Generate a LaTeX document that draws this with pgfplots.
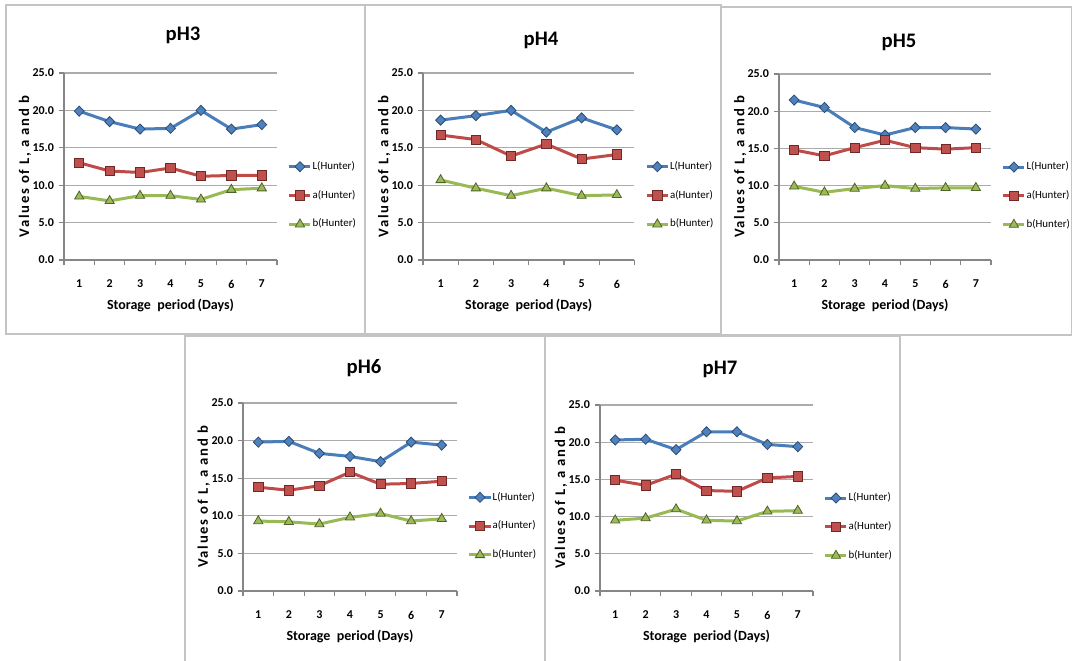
\documentclass[border=0pt]{standalone}
\usepackage{fontspec}
\setmainfont{Carlito}
\newfontfamily\ylabfont[LetterSpace=12]{Carlito}
\usepackage{pgfplots}
\pgfplotsset{compat=1.18}
\usepackage{pgfplotstable}

\definecolor{Lline}{HTML}{4A7EBB}
\definecolor{Lfill}{HTML}{4F81BD}
\definecolor{Ledge}{HTML}{2C4D75}
\definecolor{aline}{HTML}{BE4B48}
\definecolor{afill}{HTML}{C0504D}
\definecolor{aedge}{HTML}{6E2826}
\definecolor{bline}{HTML}{98B954}
\definecolor{bfill}{HTML}{9BBB59}
\definecolor{bedge}{HTML}{4F6228}
\definecolor{gridgray}{HTML}{ABABAB}
\definecolor{axisgray}{HTML}{868686}
\definecolor{framegray}{HTML}{C4C4C4}

% storage day, L, a, b (Hunter)
\pgfplotstableread{
day L a b
1 19.9 13.0 8.5
2 18.5 11.9 7.9
3 17.5 11.7 8.6
4 17.6 12.3 8.6
5 20.0 11.2 8.1
6 17.5 11.3 9.4
7 18.1 11.3 9.6
}\phthree
\pgfplotstableread{
day L a b
1 18.7 16.7 10.7
2 19.3 16.1 9.6
3 20.0 13.9 8.6
4 17.1 15.5 9.6
5 19.0 13.5 8.6
6 17.4 14.1 8.7
}\phfour
\pgfplotstableread{
day L a b
1 21.5 14.8 9.9
2 20.5 14.0 9.1
3 17.8 15.1 9.6
4 16.8 16.1 10.0
5 17.8 15.1 9.6
6 17.8 14.9 9.7
7 17.6 15.1 9.7
}\phfive
\pgfplotstableread{
day L a b
1 19.8 13.8 9.3
2 19.9 13.4 9.2
3 18.3 14.0 8.9
4 17.9 15.8 9.8
5 17.2 14.2 10.3
6 19.8 14.3 9.3
7 19.4 14.6 9.6
}\phsix
\pgfplotstableread{
day L a b
1 20.3 14.9 9.5
2 20.4 14.2 9.8
3 19.0 15.7 11.0
4 21.4 13.5 9.5
5 21.4 13.4 9.4
6 19.7 15.2 10.7
7 19.4 15.4 10.8
}\phseven

\tikzset{
  Lstyle/.style={draw=Lline, line width=2.25pt, mark=diamond*, mark size=3.8pt,
    mark options={fill=Lfill, draw=Ledge, line width=0.6pt, xscale=1.3}},
  astyle/.style={draw=aline, line width=2.25pt, mark=square*, mark size=3.5pt,
    mark options={fill=afill, draw=aedge, line width=0.6pt}},
  bstyle/.style={draw=bline, line width=2.25pt, mark=triangle*, mark size=4pt,
    mark options={fill=bfill, draw=bedge, line width=0.6pt}},
}

\pgfplotsset{
  panel/.style={
    scale only axis,
    xmin=0.5, ymin=0, ymax=25,
    axis x line*=bottom, axis y line*=left,
    axis line style={draw=axisgray, line width=0.8pt},
    ytick={0,5,...,25},
    ymajorgrids, grid style={draw=gridgray, line width=0.8pt},
    tick style={draw=axisgray, line width=0.8pt},
    tick align=outside, major tick length=4pt,
    x tick label as interval,
    /pgf/number format/assume math mode=true,
    yticklabel style={/pgf/number format/.cd, fixed, fixed zerofill, precision=1},
    ticklabel style={font=\bfseries\fontsize{9}{10}\selectfont, text=black},
    xticklabel style={yshift=-7.5pt},
    xlabel={Storage\ \ period\,(Days)},
    ylabel={Values of L, a and b},
    every axis x label/.style={at={(axis description cs:0.5,0)}, anchor=center,
      yshift=-33.75pt, font=\bfseries\fontsize{10.5}{12}\selectfont},
    every axis y label/.style={at={(axis description cs:-0.183,0.5)}, rotate=90,
      anchor=center, font=\ylabfont\bfseries\fontsize{11}{13}\selectfont},
    legend style={at={(axis description cs:1.05,0.345)}, anchor=west,
      draw=none, fill=none, inner sep=0pt, row sep=13.6pt,
      font=\fontsize{8.2}{10}\selectfont,
      nodes={inner sep=0.5pt, text height=5.5pt, text depth=1.5pt}},
    legend cell align=left,
    legend image code/.code={
      \draw[mark repeat=2, mark phase=2, ##1] plot coordinates
        {(0pt,0pt) (7.9pt,0pt) (15.8pt,0pt)};},
  }
}

\newcommand\threeseries[1]{%
  \addplot[Lstyle] table[x=day, y=L]{#1};
  \addplot[astyle] table[x=day, y=a]{#1};
  \addplot[bstyle] table[x=day, y=b]{#1};
  \legend{L(Hunter), a(Hunter), b(Hunter)}
}

\begin{document}
\begin{tikzpicture}
\begin{scope}[x=0.75pt, y=-0.75pt]
  \fill[white] (0,0) rectangle (1072,661);
  \draw[framegray, line width=1pt] (6,5) rectangle (365,334);
  \draw[framegray, line width=1pt] (365,5) rectangle (721,334);
  \draw[framegray, line width=1pt] (721,7) rectangle (1072,335);
  \draw[framegray, line width=1pt] (185,662) -- (185,336) -- (545,336) -- (545,662);
  \draw[framegray, line width=1pt] (545,336) -- (900,336) -- (900,662);
\end{scope}

\begin{axis}[panel, at={(48pt,-195pt)}, anchor=south west,
  width=159.75pt, height=140.25pt, xmax=7.5,
  xtick={0.5,1.5,...,7.5}, xticklabels={1,2,3,4,5,6,7}]
  \threeseries{\phthree}
\end{axis}

\begin{axis}[panel, at={(317.25pt,-195pt)}, anchor=south west,
  width=158.6pt, height=140.25pt, xmax=6.5,
  xtick={0.5,1.5,...,6.5}, xticklabels={1,2,3,4,5,6}]
  \threeseries{\phfour}
\end{axis}

\begin{axis}[panel, at={(584.25pt,-195pt)}, anchor=south west,
  width=159pt, height=139.5pt, xmax=7.5,
  xtick={0.5,1.5,...,7.5}, xticklabels={1,2,3,4,5,6,7}]
  \threeseries{\phfive}
\end{axis}

\begin{axis}[panel, at={(182.25pt,-443.25pt)}, anchor=south west,
  width=160.5pt, height=141pt, xmax=7.5,
  xtick={0.5,1.5,...,7.5}, xticklabels={1,2,3,4,5,6,7}]
  \threeseries{\phsix}
\end{axis}

\begin{axis}[panel, at={(450pt,-443.25pt)}, anchor=south west,
  width=159.75pt, height=139.5pt, xmax=7.5,
  xtick={0.5,1.5,...,7.5}, xticklabels={1,2,3,4,5,6,7}]
  \threeseries{\phseven}
\end{axis}

\begin{scope}[x=0.75pt, y=-0.75pt, every node/.style={font=\bfseries\fontsize{15.5}{18}\selectfont}]
  \node at (183,35) {pH3};
  \node at (541,40) {pH4};
  \node at (899,42) {pH5};
  \node at (364,368) {pH6};
  \node at (720,369) {pH7};
\end{scope}
\pgfresetboundingbox
\path[use as bounding box] (0pt,0pt) rectangle (804pt,-495.75pt);
\end{tikzpicture}
\end{document}
